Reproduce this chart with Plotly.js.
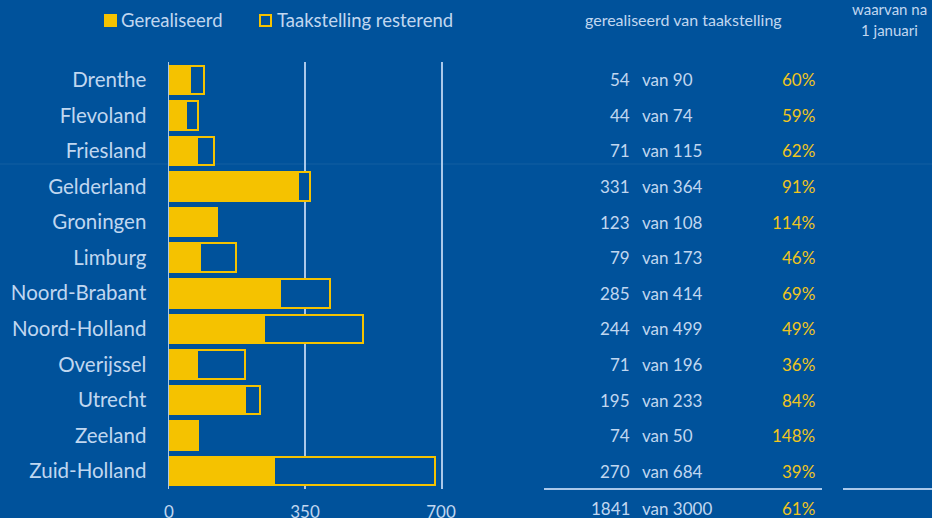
<!DOCTYPE html>
<html>
<head>
<meta charset="utf-8">
<script src="https://cdn.plot.ly/plotly-3.0.1.min.js"></script>
<style>html,body{margin:0;padding:0;background:#00529b;}#chart{width:932px;height:518px;}</style>
</head>
<body>
<div id="chart"></div>
<script>
// ---- data ----
var provinces = ["Drenthe","Flevoland","Friesland","Gelderland","Groningen","Limburg","Noord-Brabant","Noord-Holland","Overijssel","Utrecht","Zeeland","Zuid-Holland"];
var gerealiseerd = [54,44,71,331,123,79,285,244,71,195,74,270];
var taakstelling = [90,74,115,364,108,173,414,499,196,233,50,684];
var percentages = ["60%","59%","62%","91%","114%","46%","69%","49%","36%","84%","148%","39%"];
var totalRealised = 1841;
var totalTarget = 3000;
var totalPct = "61%";
var xTicks = [0,350,700];

var resterend = taakstelling.map(function(t,i){return Math.max(t - gerealiseerd[i], 0);});

// ---- style ----
var BG = "#00529b";
var YEL = "#f5c200";
var TXT = "#c0d7f0";
var PCT = "#f0c520";
var GRID = "#aac8ea";
var FONT = "Lato, 'Open Sans', sans-serif";
var W = 932, H = 518;
function px(x){return x/W;}
function py(y){return (H-y)/H;}

var traces = [
  {type:"bar", orientation:"h", name:"Gerealiseerd", y:provinces, x:gerealiseerd,
   marker:{color:YEL, line:{color:YEL, width:2}}, width:0.8, hoverinfo:"x+y", showlegend:false},
  {type:"bar", orientation:"h", name:"Taakstelling resterend", y:provinces, x:resterend,
   marker:{color:BG, line:{color:YEL, width:2}}, width:0.8, hoverinfo:"x+y", showlegend:false}
];

var annotations = [];
var shapes = [];
for (var i=0;i<provinces.length;i++){
  annotations.push({xref:"paper", yref:"y", x:px(632), y:provinces[i], text:String(gerealiseerd[i]), xanchor:"right", yanchor:"middle", showarrow:false, font:{family:FONT,size:17,color:TXT}});
  annotations.push({xref:"paper", yref:"y", x:px(640), y:provinces[i], text:"van "+taakstelling[i], xanchor:"left", yanchor:"middle", showarrow:false, font:{family:FONT,size:17,color:TXT}});
  annotations.push({xref:"paper", yref:"y", x:px(817), y:provinces[i], text:percentages[i], xanchor:"right", yanchor:"middle", showarrow:false, font:{family:FONT,size:17,color:PCT}});
}
// totals
annotations.push({xref:"paper", yref:"paper", x:px(632), y:py(508), text:String(totalRealised), xanchor:"right", yanchor:"middle", showarrow:false, font:{family:FONT,size:17,color:TXT}});
annotations.push({xref:"paper", yref:"paper", x:px(640), y:py(508), text:"van "+totalTarget, xanchor:"left", yanchor:"middle", showarrow:false, font:{family:FONT,size:17,color:TXT}});
annotations.push({xref:"paper", yref:"paper", x:px(817), y:py(508), text:totalPct, xanchor:"right", yanchor:"middle", showarrow:false, font:{family:FONT,size:17,color:PCT}});
// headers
annotations.push({xref:"paper", yref:"paper", x:px(683), y:py(19), text:"gerealiseerd van taakstelling", xanchor:"center", yanchor:"middle", showarrow:false, font:{family:FONT,size:16,color:TXT}});
annotations.push({xref:"paper", yref:"paper", x:px(889), y:py(9), text:"waarvan na", xanchor:"center", yanchor:"middle", showarrow:false, font:{family:FONT,size:15,color:TXT}});
annotations.push({xref:"paper", yref:"paper", x:px(889), y:py(30), text:"1 januari", xanchor:"center", yanchor:"middle", showarrow:false, font:{family:FONT,size:15,color:TXT}});
// legend
annotations.push({xref:"paper", yref:"paper", x:px(119), y:py(20), text:"Gerealiseerd", xanchor:"left", yanchor:"middle", showarrow:false, font:{family:FONT,size:18.5,color:TXT}});
annotations.push({xref:"paper", yref:"paper", x:px(275), y:py(20), text:"Taakstelling resterend", xanchor:"left", yanchor:"middle", showarrow:false, font:{family:FONT,size:18.5,color:TXT}});
shapes.push({type:"rect", xref:"paper", yref:"paper", x0:px(104), x1:px(117), y0:py(27), y1:py(14), fillcolor:YEL, line:{width:0}});
shapes.push({type:"rect", xref:"paper", yref:"paper", x0:px(260), x1:px(271), y0:py(26), y1:py(15), fillcolor:BG, line:{color:YEL,width:2}});
// separator lines
shapes.push({type:"line", xref:"paper", yref:"paper", x0:px(544), x1:px(822), y0:py(489), y1:py(489), line:{color:GRID,width:2}});
shapes.push({type:"line", xref:"paper", yref:"paper", x0:px(843), x1:1, y0:py(489), y1:py(489), line:{color:GRID,width:2}});
// faint artefact line
shapes.push({type:"line", xref:"paper", yref:"paper", x0:0, x1:1, y0:py(164), y1:py(164), line:{color:"rgba(255,255,255,0.07)",width:1}, layer:"below"});

var layout = {
  width:W, height:H,
  margin:{l:0,r:0,t:0,b:0},
  paper_bgcolor:BG, plot_bgcolor:BG,
  barmode:"stack",
  showlegend:false,
  xaxis:{domain:[px(169),px(441)], range:[0,700], tickvals:xTicks, ticktext:xTicks.map(String),
         showgrid:true, gridcolor:GRID, gridwidth:1.5, zeroline:false, showline:false, ticks:"",
         ticklabelstandoff:11, tickfont:{family:FONT,size:17,color:TXT}, automargin:false, fixedrange:true},
  yaxis:{domain:[py(489),py(62)], type:"category", autorange:"reversed", showgrid:false, zeroline:false,
         showline:true, mirror:true, linecolor:GRID, linewidth:1.5,
         ticks:"", ticklabelstandoff:17, tickfont:{family:FONT,size:20.5,color:TXT}, automargin:false, fixedrange:true},
  annotations:annotations,
  shapes:shapes,
  font:{family:FONT,color:TXT}
};

Plotly.newPlot("chart", traces, layout, {displayModeBar:false, staticPlot:true});
</script>
</body>
</html>
